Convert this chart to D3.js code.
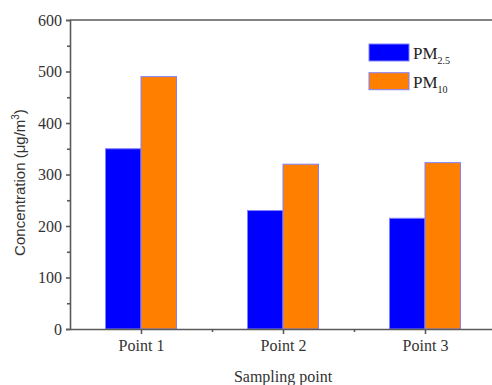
<!DOCTYPE html>
<html>
<head>
<meta charset="utf-8">
<script src="https://cdn.jsdelivr.net/npm/d3@7"></script>
<style>
  body { margin: 0; background: #fff; }
  .tick text { font-family: "Liberation Serif", "Times New Roman", serif; }
</style>
</head>
<body>
<div id="chart"></div>
<script>
const categories = ["Point 1", "Point 2", "Point 3"];
const pm25 = [350, 230, 215];
const pm10 = [490, 320, 323];
const yTicks = [0, 100, 200, 300, 400, 500, 600];

const width = 492, height = 385;
const margin = { left: 70, top: 20, bottom: 56 };
const plotRight = 496; // frame runs past the window edge
const serif = "'Liberation Serif', 'Times New Roman', serif";

const svg = d3.select("#chart").append("svg")
    .attr("width", width)
    .attr("height", height);

const x = d3.scaleLinear()
    .domain([0.5, categories.length + 0.5])
    .range([margin.left, plotRight]);

const y = d3.scaleLinear()
    .domain([0, 600])
    .range([height - margin.bottom, margin.top]);

const step = x(2) - x(1);
const barW = step * 0.25;

// bars
const series = [
    { name: "PM2.5", values: pm25, color: "#0000ff", offset: -1 },
    { name: "PM10", values: pm10, color: "#ff8000", offset: 0 }
];

series.forEach(s => {
    svg.append("g").selectAll("rect")
        .data(s.values)
        .enter()
        .append("rect")
        .attr("x", (d, i) => x(i + 1) + s.offset * barW)
        .attr("y", d => y(d))
        .attr("width", barW)
        .attr("height", d => y(0) - y(d))
        .attr("fill", s.color)
        .attr("stroke", "#8080ff")
        .attr("stroke-width", 1);
});

const axisColor = "#5a5a5a";

// top frame line
svg.append("line")
    .attr("x1", margin.left).attr("x2", width)
    .attr("y1", y(600)).attr("y2", y(600))
    .attr("stroke", axisColor).attr("stroke-width", 1.6);

// y axis
svg.append("g")
    .attr("transform", `translate(${margin.left},0)`)
    .call(d3.axisLeft(y).tickValues(yTicks).tickSize(4).tickPadding(4))
    .attr("font-family", serif)
    .attr("font-size", 16);

svg.append("g")
    .attr("transform", `translate(${margin.left},0)`)
    .call(d3.axisLeft(y).tickValues(d3.range(50, 600, 100)).tickSize(3).tickFormat(""))
    .call(g => g.select(".domain").remove());

// x axis
svg.append("g")
    .attr("transform", `translate(0,${y(0)})`)
    .call(d3.axisBottom(x).tickValues(d3.range(1, categories.length + 1))
        .tickFormat(d => categories[d - 1]).tickSize(5).tickPadding(6).tickSizeOuter(0))
    .attr("font-family", serif)
    .attr("font-size", 16);

svg.append("g")
    .attr("transform", `translate(0,${y(0)})`)
    .call(d3.axisBottom(x).tickValues([1.5, 2.5]).tickSize(3).tickFormat(""))
    .call(g => g.select(".domain").remove());

svg.selectAll(".domain, .tick line")
    .attr("stroke", axisColor)
    .attr("stroke-width", 1.6);

svg.selectAll(".tick text").attr("fill", "#333");

// axis titles
svg.append("text")
    .attr("x", x(2))
    .attr("y", 382)
    .attr("text-anchor", "middle")
    .attr("fill", "#333")
    .attr("font-family", serif)
    .attr("font-size", 16)
    .text("Sampling point");

const yTitle = svg.append("text")
    .attr("transform", `translate(25,${(margin.top + y(0)) / 2 + 8}) rotate(-90)`)
    .attr("text-anchor", "middle")
    .attr("fill", "#333")
    .attr("font-family", "'Liberation Sans', Arial, sans-serif")
    .attr("font-size", 15);
yTitle.append("tspan").text("Concentration (μg/m");
yTitle.append("tspan").attr("dy", -6).attr("font-size", 10).text("3");
yTitle.append("tspan").attr("dy", 6).text(")");

// legend
const legend = svg.append("g").attr("transform", "translate(369,44)");
const subs = ["2.5", "10"];
series.forEach((s, i) => {
    const row = legend.append("g").attr("transform", `translate(0,${i * 28.7})`);
    row.append("rect")
        .attr("width", 40).attr("height", 17)
        .attr("fill", s.color)
        .attr("stroke", "#8080ff").attr("stroke-width", 1);
    const t = row.append("text")
        .attr("x", 44).attr("y", 15)
        .attr("fill", "#222")
        .attr("font-family", serif)
        .attr("font-size", 17);
    t.append("tspan").text("PM");
    t.append("tspan").attr("dy", 5).attr("font-size", 10).text(subs[i]);
});
</script>
</body>
</html>
